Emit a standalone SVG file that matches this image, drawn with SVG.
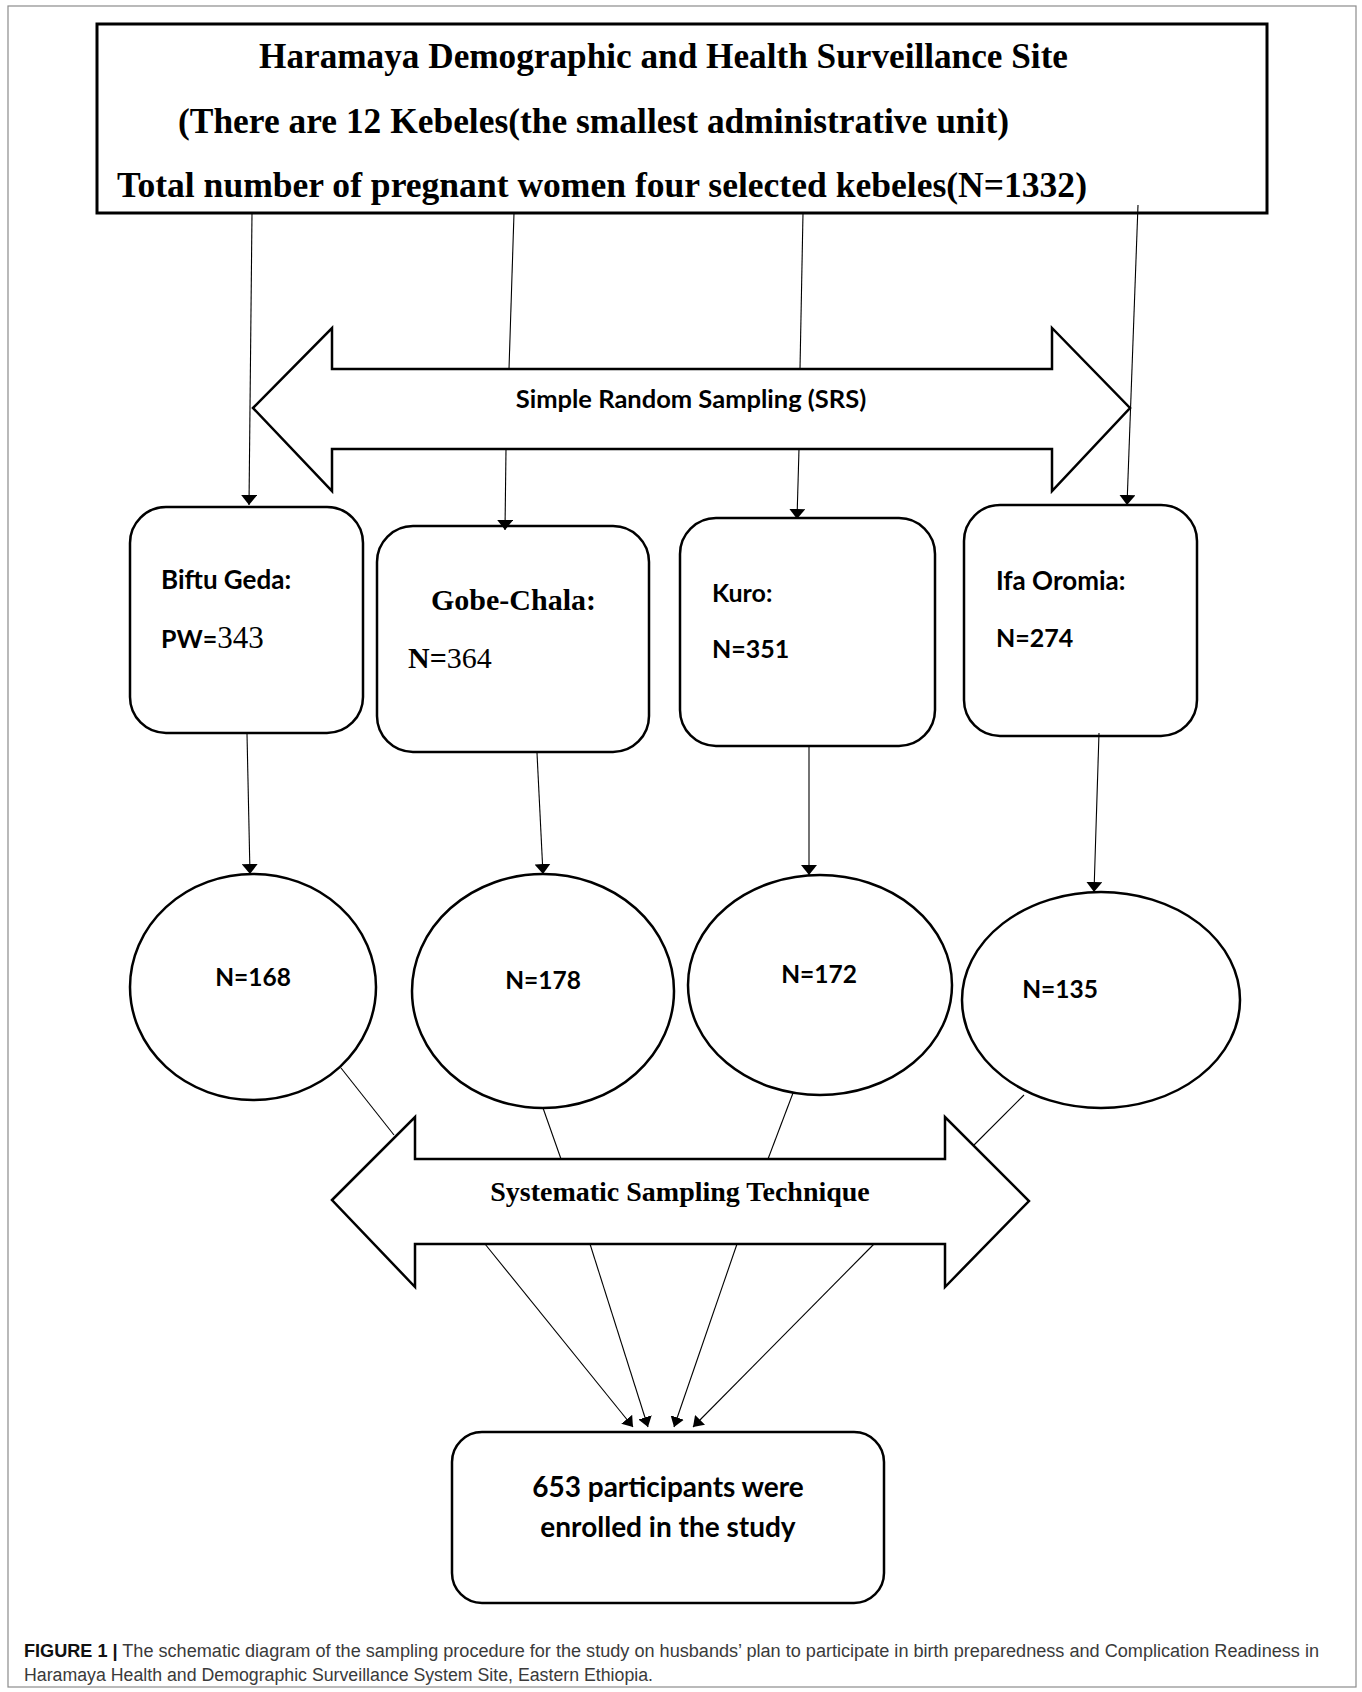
<svg xmlns="http://www.w3.org/2000/svg" width="1362" height="1692" viewBox="0 0 1362 1692">
<defs>
<marker id="ah" viewBox="0 0 10 16" refX="10" refY="8" markerWidth="10" markerHeight="16" markerUnits="userSpaceOnUse" orient="auto">
<path d="M0,0 L10,8 L0,16 z" fill="#000"/>
</marker>
<marker id="ahs" viewBox="0 0 10 14" refX="10" refY="7" markerWidth="10" markerHeight="14" markerUnits="userSpaceOnUse" orient="auto">
<path d="M0,0 L10,7 L0,14 z" fill="#000"/>
</marker>
</defs>
<style>
.frame{fill:none;stroke:#8c8c8c;stroke-width:1.2}
.box{fill:#fff;stroke:#000;stroke-width:2.5}
.big{fill:#fff;stroke:#000;stroke-width:3}
.shape{fill:#fff;stroke:#000;stroke-width:2.5;stroke-linejoin:miter}
.c{fill:none;stroke:#000;stroke-width:1.1}
.ca{fill:none;stroke:#000;stroke-width:1.1;marker-end:url(#ah)}
.cs{fill:none;stroke:#000;stroke-width:1.1;marker-end:url(#ahs)}
.tb{font-family:"Liberation Serif","Times New Roman",serif;font-weight:bold;fill:#000}
.tr{font-family:"Liberation Serif","Times New Roman",serif;font-weight:normal;fill:#000}
.sb{font-family:Lato,"Open Sans",sans-serif;font-weight:bold;fill:#000}
.cap{font-family:"Liberation Sans",Arial,sans-serif;font-size:18px;fill:#3a3a3a}
</style>
<rect class="frame" x="8" y="6" width="1348" height="1681"/>

<g id="header">
<rect class="big" x="97" y="24" width="1170" height="189"/>
<text class="tb" x="259" y="68" font-size="35" textLength="809" lengthAdjust="spacingAndGlyphs">Haramaya Demographic and Health Surveillance Site</text>
<text class="tb" x="178" y="133" font-size="35" textLength="831" lengthAdjust="spacingAndGlyphs">(There are 12 Kebeles(the smallest administrative unit)</text>
<text class="tb" x="117" y="197" font-size="35" textLength="970" lengthAdjust="spacingAndGlyphs">Total number of pregnant women four selected kebeles(N=1332)</text>
</g>

<g id="srs">
<polygon class="shape" points="253,408 332,328 332,369 1052,369 1052,328 1130,408 1052,491 1052,449 332,449 332,491"/>
<text class="sb" x="691" y="408" font-size="25.5" text-anchor="middle">Simple Random Sampling (SRS)</text>
</g>

<g id="biftu">
<rect class="box" x="130" y="507" width="233" height="226" rx="36" ry="36"/>
<text class="sb" x="161" y="589" font-size="26">Biftu Geda:</text>
<text x="161" y="648"><tspan class="sb" font-size="25">PW=</tspan><tspan class="tr" font-size="31">343</tspan></text>
</g>

<g id="gobe">
<rect class="box" x="377" y="526" width="272" height="226" rx="36" ry="36"/>
<text class="tb" x="431" y="610" font-size="30">Gobe-Chala:</text>
<text x="408" y="668"><tspan class="tb" font-size="30">N=</tspan><tspan class="tr" font-size="30">364</tspan></text>
</g>

<g id="kuro">
<rect class="box" x="680" y="518" width="255" height="228" rx="36" ry="36"/>
<text class="sb" x="712" y="602" font-size="25">Kuro:</text>
<text class="sb" x="712" y="658" font-size="25">N=351</text>
</g>

<g id="ifa">
<rect class="box" x="964" y="505" width="233" height="231" rx="36" ry="36"/>
<text class="sb" x="996" y="590" font-size="26">Ifa Oromia:</text>
<text class="sb" x="996" y="647" font-size="25">N=274</text>
</g>

<g id="n168">
<ellipse class="box" cx="253" cy="987" rx="123" ry="113"/>
<text class="sb" x="253" y="986" font-size="24.5" text-anchor="middle">N=168</text>
</g>
<g id="n178">
<ellipse class="box" cx="543" cy="991" rx="131" ry="117"/>
<text class="sb" x="543" y="989" font-size="24.5" text-anchor="middle">N=178</text>
</g>
<g id="n172">
<ellipse class="box" cx="820" cy="985" rx="132" ry="110"/>
<text class="sb" x="819" y="983" font-size="24.5" text-anchor="middle">N=172</text>
</g>
<g id="n135">
<ellipse class="box" cx="1101" cy="1000" rx="139" ry="108"/>
<text class="sb" x="1060" y="998" font-size="24.5" text-anchor="middle">N=135</text>
</g>

<g id="systematic">
<polygon class="shape" points="332,1200 415,1117 415,1159 945,1159 945,1117 1029,1201 945,1287 945,1244 415,1244 415,1287"/>
<text class="tb" x="680" y="1201" font-size="28" text-anchor="middle">Systematic Sampling Technique</text>
</g>

<g id="result">
<rect class="box" x="452" y="1432" width="432" height="171" rx="30" ry="30"/>
<text class="sb" x="668" y="1497" font-size="28" text-anchor="middle">653 participants were</text>
<text class="sb" x="668" y="1537" font-size="28" text-anchor="middle">enrolled in the study</text>
</g>

<g id="connectors">
<line class="ca" x1="252" y1="213" x2="249" y2="505"/>
<line class="c" x1="514" y1="213" x2="509" y2="369"/>
<line class="ca" x1="506" y1="449" x2="505" y2="530"/>
<line class="c" x1="803" y1="213" x2="800" y2="369"/>
<line class="ca" x1="799" y1="449" x2="797" y2="519"/>
<line class="ca" x1="1138" y1="205" x2="1127" y2="505"/>
<line class="ca" x1="247" y1="734" x2="250" y2="874"/>
<line class="ca" x1="537" y1="753" x2="543" y2="874"/>
<line class="ca" x1="809" y1="747" x2="809" y2="875"/>
<line class="ca" x1="1099" y1="733" x2="1094" y2="892"/>
<line class="c" x1="341" y1="1068" x2="394" y2="1135"/>
<line class="c" x1="543" y1="1108" x2="561" y2="1159"/>
<line class="c" x1="793" y1="1093" x2="768" y2="1159"/>
<line class="c" x1="1024" y1="1095" x2="974" y2="1145"/>
<line class="cs" x1="485" y1="1244" x2="633" y2="1427"/>
<line class="cs" x1="590" y1="1244" x2="648" y2="1427"/>
<line class="cs" x1="737" y1="1244" x2="674" y2="1427"/>
<line class="cs" x1="874" y1="1244" x2="693" y2="1427"/>
</g>

<g id="caption">
<text class="cap" x="24" y="1657" textLength="1295" lengthAdjust="spacingAndGlyphs"><tspan font-weight="bold" fill="#111">FIGURE 1 |</tspan> The schematic diagram of the sampling procedure for the study on husbands’ plan to participate in birth preparedness and Complication Readiness in</text>
<text class="cap" x="24" y="1681" textLength="629" lengthAdjust="spacingAndGlyphs">Haramaya Health and Demographic Surveillance System Site, Eastern Ethiopia.</text>
</g>
</svg>
